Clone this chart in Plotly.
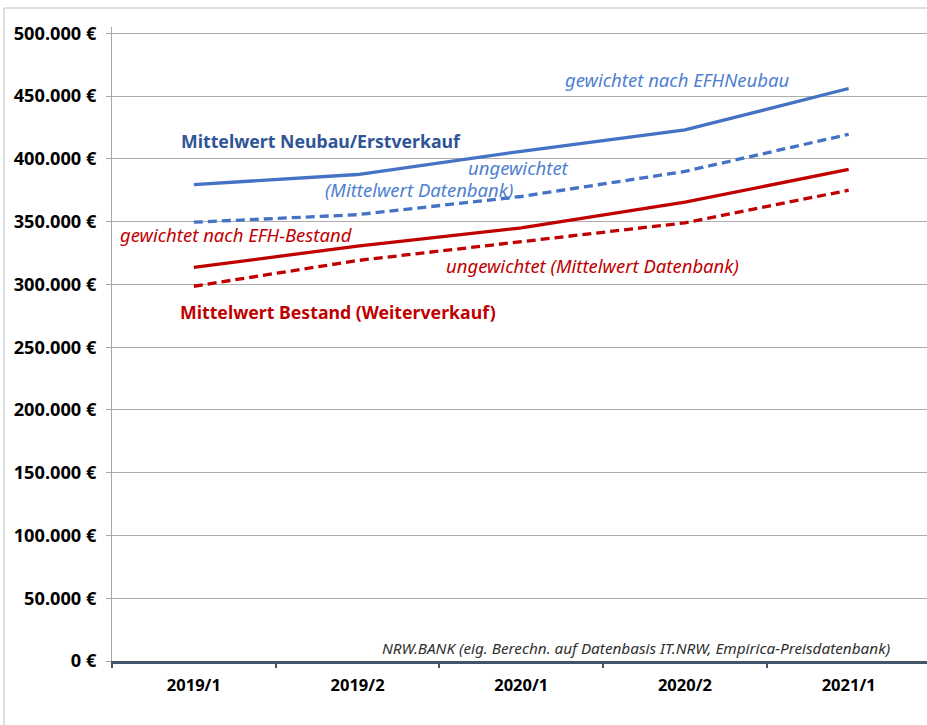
import plotly.graph_objects as go

# Halbjahre
perioden = ["2019/1", "2019/2", "2020/1", "2020/2", "2021/1"]

# Mittelwert Neubau/Erstverkauf (EUR)
neubau_gewichtet = [379500, 387500, 406000, 423000, 456000]
neubau_ungewichtet = [349500, 355500, 370000, 390000, 419500]

# Mittelwert Bestand (Weiterverkauf) (EUR)
bestand_gewichtet = [313500, 330500, 345000, 365500, 391500]
bestand_ungewichtet = [298500, 319000, 334000, 349000, 375000]

y_ticks = list(range(0, 500001, 50000))
y_tick_labels = [f"{v:,}".replace(",", ".") + " €" if v else "0 €" for v in y_ticks]

BLAU = "#4472C4"
ROT = "#C00000"
FONT = "Noto Sans"

fig = go.Figure()

def linie(werte, farbe, gestrichelt):
    fig.add_trace(go.Scatter(
        x=perioden, y=werte, mode="lines",
        line=dict(color=farbe, width=3.3, dash="9px,5px" if gestrichelt else "solid"),
        hoverinfo="skip", showlegend=False,
    ))

linie(neubau_gewichtet, BLAU, False)
linie(neubau_ungewichtet, BLAU, True)
linie(bestand_gewichtet, ROT, False)
linie(bestand_ungewichtet, ROT, True)

def text(t, x, y, farbe, size, bold=False, italic=False, anchor="center"):
    fig.add_annotation(
        x=x, y=y, xref="x", yref="y", text=t, showarrow=False,
        xanchor=anchor, yanchor="middle",
        font=dict(family=FONT, size=size, color=farbe,
                  weight="bold" if bold else "normal",
                  style="italic" if italic else "normal"),
    )

text("Mittelwert Neubau/Erstverkauf", 0.775, 413900, "#2F5597", 17.7, bold=True)
text("gewichtet nach EFHNeubau", 2.95, 463100, "#4F7FD0", 18.5, italic=True)
text("ungewichtet", 1.985, 392950, "#4F7FD0", 18.5, italic=True)
text("(Mittelwert Datenbank)", 1.374, 375400, "#4F7FD0", 18.5, italic=True)
text("gewichtet nach EFH-Bestand", 0.263, 339500, ROT, 18.5, italic=True)
text("ungewichtet (Mittelwert Datenbank)", 2.434, 314800, ROT, 18.5, italic=True)
text("Mittelwert Bestand (Weiterverkauf)", 0.883, 277600, ROT, 17.7, bold=True)
text("NRW.BANK (eig. Berechn. auf Datenbasis IT.NRW, Empirica-Preisdatenbank)",
     4.262, 10600, "#303030", 15.3, italic=True, anchor="right")

# Rahmen um das Diagramm
fig.add_shape(type="rect", xref="paper", yref="paper",
              x0=(4 - 112) / 815, x1=1.05, y0=-0.2, y1=(661 - 8) / 634,
              line=dict(color="#BFBFBF", width=1), fillcolor="rgba(0,0,0,0)",
              layer="below")

fig.update_layout(
    width=927, height=725,
    margin=dict(l=112, r=0, t=27, b=64),
    paper_bgcolor="white", plot_bgcolor="white",
    font=dict(family=FONT, color="#000000"),
    xaxis=dict(
        type="category", range=[-0.5, 4.5 - 3.5 / 163.7],
        tickson="boundaries", ticks="outside", ticklen=4, tickwidth=2,
        tickcolor="#44546A", showline=True, linecolor="#44546A", linewidth=3,
        showgrid=False, zeroline=False,
        tickfont=dict(family=FONT, size=16.5, color="#000000", weight="bold"),
        ticklabelstandoff=7,
    ),
    yaxis=dict(
        range=[0, 505000], tickvals=y_ticks, ticktext=y_tick_labels,
        ticks="outside", ticklen=5, tickcolor="#A6A6A6",
        showline=True, linecolor="#A6A6A6", linewidth=1,
        showgrid=True, gridcolor="#ADADAD", gridwidth=1, zeroline=False,
        tickfont=dict(family=FONT, size=18.2, color="#000000", weight="bold"),
        ticklabelstandoff=6,
    ),
)

fig.write_html("out.html")
